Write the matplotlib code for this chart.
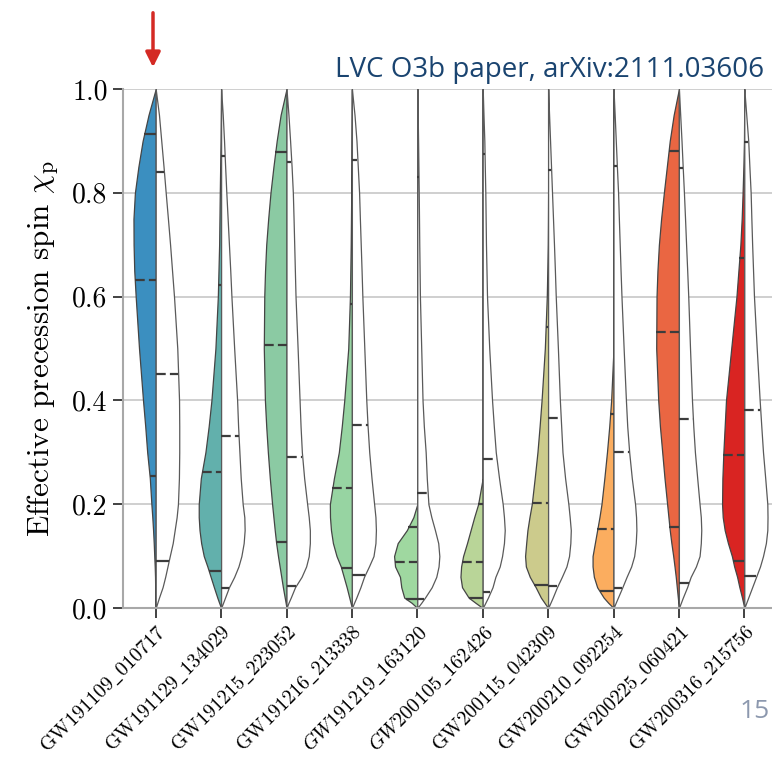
import numpy as np
import matplotlib
matplotlib.use("Agg")
import matplotlib.pyplot as plt

plt.rcParams['font.family'] = 'serif'
plt.rcParams['font.serif'] = ['cmr10']
plt.rcParams['mathtext.fontset'] = 'cm'
plt.rcParams['axes.formatter.use_mathtext'] = True
plt.rcParams['lines.scale_dashes'] = False

# events (x categories)
events = ['GW191109_010717', 'GW191129_134029', 'GW191215_223052', 'GW191216_213338',
          'GW191219_163120', 'GW200105_162426', 'GW200115_042309', 'GW200210_092254',
          'GW200225_060421', 'GW200316_215756']
italic_events = ['GW191219_163120', 'GW200105_162426']
colors = ['#3b8fc0', '#62b0ac', '#8bcaa3', '#97d4a2', '#9fd8a0',
          '#b9d598', '#cccb8c', '#fbad5f', '#ea6642', '#d92422']

# chi_p heights at which half-widths were read
chi = [0, .01, .02, .04, .06, .08, .1, .125, .15, .175, .2, .25, .3, .35, .4,
       .5, .6, .65, .7, .75, .8, .85, .9, .95, 1.0]

# posterior half-widths (left, coloured)
post_w = [
    [0, .003, .005, .008, .01, .015, .022, .03, .04, .052, .066, .09, .13, .16, .194, .255, .306, .328, .338, .34, .318, .265, .2, .11, 0],
    [0, .03, .058, .11, .16, .21, .265, .305, .33, .342, .342, .31, .24, .19, .148, .087, .05, .04, .03, .025, .02, .014, .008, .004, 0],
    [0, .013, .027, .055, .08, .105, .13, .158, .18, .2, .22, .255, .285, .31, .33, .347, .34, .328, .31, .28, .245, .2, .15, .09, 0],
    [0, .02, .04, .08, .125, .17, .235, .29, .32, .335, .337, .275, .2, .155, .117, .056, .03, .024, .018, .014, .01, .007, .005, .002, 0],
    [0, .087, .2, .245, .265, .34, .355, .3, .16, .06, 0, 0, 0, 0, 0, 0, 0, 0, 0, 0, 0, 0, 0, 0, 0],
    [0, .11, .215, .316, .34, .33, .3, .24, .185, .13, .07, 0, 0, 0, 0, 0, 0, 0, 0, 0, 0, 0, 0, 0, 0],
    [0, .055, .11, .19, .28, .34, .352, .335, .316, .285, .25, .205, .163, .13, .1, .05, .02, .012, .005, .002, 0, 0, 0, 0, 0],
    [0, .08, .15, .25, .3, .32, .32, .285, .25, .215, .184, .14, .1, .065, .036, 0, 0, 0, 0, 0, 0, 0, 0, 0, 0],
    [0, .008, .016, .032, .048, .067, .087, .115, .14, .16, .18, .22, .255, .29, .316, .347, .342, .328, .306, .272, .23, .185, .14, .08, 0],
    [0, .017, .035, .075, .11, .155, .19, .25, .3, .33, .34, .335, .32, .3, .28, .2, .12, .09, .06, .04, .026, .014, .005, .002, 0],
]

# prior half-widths (right, white)
prior_w = [
    [0, .025, .05, .105, .145, .18, .215, .26, .29, .32, .34, .355, .36, .36, .357, .33, .28, .25, .22, .187, .153, .12, .085, .05, 0],
    [0, .03, .06, .12, .2, .265, .31, .345, .36, .355, .33, .3, .28, .26, .245, .2, .158, .14, .12, .1, .08, .062, .045, .025, 0],
    [0, .03, .065, .13, .23, .3, .34, .357, .357, .34, .316, .27, .235, .215, .2, .17, .138, .128, .118, .108, .097, .078, .055, .03, 0],
    [0, .033, .067, .13, .185, .26, .33, .36, .367, .36, .34, .3, .265, .24, .22, .19, .16, .148, .135, .122, .11, .09, .07, .04, 0],
    [0, .06, .117, .22, .29, .325, .337, .32, .27, .215, .17, .145, .128, .1, .08, .06, .04, .035, .03, .026, .022, .017, .012, .006, 0],
    [0, .04, .08, .15, .194, .26, .296, .325, .337, .325, .306, .25, .2, .17, .143, .1, .066, .058, .05, .045, .04, .032, .025, .012, 0],
    [0, .035, .07, .135, .21, .28, .32, .34, .347, .33, .31, .26, .22, .2, .18, .15, .117, .104, .09, .075, .06, .045, .03, .015, 0],
    [0, .033, .067, .135, .2, .27, .316, .34, .35, .345, .33, .28, .24, .21, .19, .155, .122, .108, .095, .082, .07, .052, .035, .018, 0],
    [0, .03, .06, .125, .18, .26, .316, .335, .342, .335, .316, .28, .245, .22, .2, .17, .143, .127, .11, .094, .077, .058, .04, .02, 0],
    [0, .03, .06, .12, .18, .24, .286, .33, .352, .355, .352, .32, .286, .26, .235, .19, .148, .134, .12, .108, .097, .078, .06, .03, 0],
]

# 5%, 50%, 95% quantiles
post_q = [(0.254, 0.632, 0.913), (0.071, 0.263, 0.622), (0.127, 0.507, 0.879),
          (0.078, 0.231, 0.585), (0.017, 0.089, 0.156), (0.019, 0.088, 0.2),
          (0.045, 0.203, 0.541), (0.032, 0.153, 0.373), (0.157, 0.532, 0.88),
          (0.09, 0.295, 0.675)]
prior_q = [(0.09, 0.451, 0.84), (0.038, 0.332, 0.871), (0.043, 0.29, 0.86),
           (0.063, 0.353, 0.864), (0.017, 0.222, 0.83), (0.031, 0.287, 0.874),
           (0.042, 0.367, 0.843), (0.038, 0.30, 0.852), (0.048, 0.365, 0.848),
           (0.062, 0.382, 0.897)]

fig = plt.figure(figsize=(7.72, 7.58), dpi=100)
ax = fig.add_axes([123 / 772, 150 / 758, 654 / 772, 519 / 758])

edge = '#454545'
dash = (0, (7.0, 3.0))
for i in range(len(events)):
    pw = np.array(post_w[i])
    rw = np.array(prior_w[i])
    ax.fill_betweenx(chi, i - pw, i, facecolor=colors[i], edgecolor=edge, lw=0.9, zorder=2)
    ax.fill_betweenx(chi, i, i + rw, facecolor='white', edgecolor='#5a5a5a', lw=0.9, zorder=2)
    for k, q in enumerate(post_q[i]):
        w = np.interp(q, chi, pw)
        ax.plot([i - w, i], [q, q], color='#3c3c3c', lw=1.6, ls=dash if k == 1 else '-',
                zorder=3, solid_capstyle='butt', dash_capstyle='butt')
    for k, q in enumerate(prior_q[i]):
        w = np.interp(q, chi, rw)
        ax.plot([i, i + w], [q, q], color='#3c3c3c', lw=1.6, ls=dash if k == 1 else '-',
                zorder=3, solid_capstyle='butt', dash_capstyle='butt')

ax.set_xlim(-0.5, 9.5)
ax.set_ylim(0, 1.0)
ax.set_yticks([0, 0.2, 0.4, 0.6, 0.8, 1.0])
ax.set_yticklabels(['0.0', '0.2', '0.4', '0.6', '0.8', '1.0'])
ax.set_xticks(range(len(events)))
labels = []
for e in events:
    s = e.replace('_', r'\_')
    labels.append(r'$\mathit{%s}$' % s if e in italic_events else r'$\mathrm{%s}$' % s)
ax.set_xticklabels(labels, rotation=45, ha='right', va='top', rotation_mode='anchor', fontsize=14.5)
ax.tick_params(axis='y', labelsize=20)
ax.tick_params(direction='out', length=7, width=1.3, color='#333333', pad=4)
ax.tick_params(axis='x', pad=3)
ax.yaxis.grid(True, color='#cccccc', lw=1.3, zorder=0)
ax.set_axisbelow(True)
for s in ['top', 'right']:
    ax.spines[s].set_visible(False)
for s in ['left', 'bottom']:
    ax.spines[s].set_color('#a8a8a8')
    ax.spines[s].set_linewidth(1.5)
ax.set_ylabel(r'Effective precession spin $\chi_\mathrm{p}$', fontsize=22.5, labelpad=8)

fig.text(764 / 772, 1 - 70 / 758, 'LVC O3b paper, arXiv:2111.03606', ha='right', va='center',
         fontsize=20, color='#1a4470', family='Open Sans')
fig.text(770 / 772, 1 - 712 / 758, '15', ha='right', va='center', fontsize=19,
         color='#8c98ae', family='Open Sans')
ax.annotate('', xy=(153 / 772, 1 - 70 / 758), xytext=(153 / 772, 1 - 10 / 758),
            xycoords='figure fraction', textcoords='figure fraction',
            arrowprops=dict(arrowstyle='-|>', color='#d42a24', lw=2.5, mutation_scale=22))

fig.savefig('out.png', dpi=100)
